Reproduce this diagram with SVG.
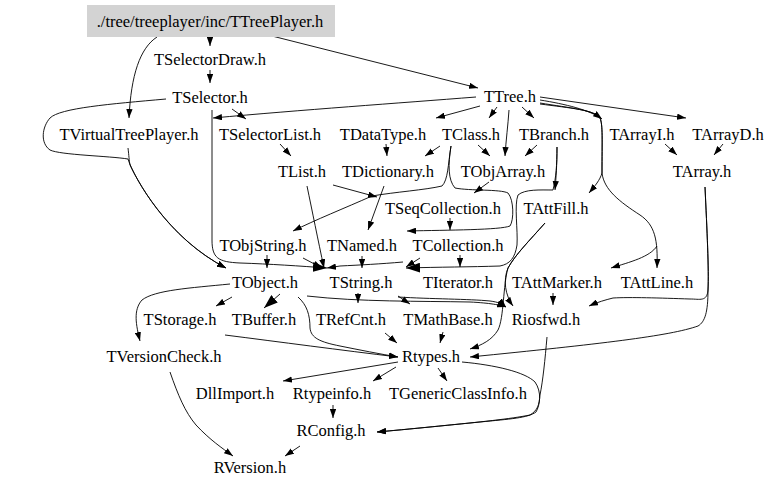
<svg xmlns="http://www.w3.org/2000/svg" width="779" height="491" viewBox="0 0 779 491">
<style>
text{font-family:"Liberation Serif","DejaVu Serif","Times New Roman",Times,serif;font-size:16.5px;text-anchor:middle;fill:#000}
.e{fill:none;stroke:#000;stroke-width:0.9;marker-end:url(#ah)}
.b{marker-end:url(#big)}
</style>
<defs>
<marker id="ah" viewBox="0 0 10 7" refX="10" refY="3.5" markerWidth="9" markerHeight="6.5" markerUnits="userSpaceOnUse" orient="auto"><path d="M0,0L10,3.5L0,7z" fill="#000"/></marker>
<marker id="big" viewBox="0 0 10 7" refX="10" refY="3.5" markerWidth="14" markerHeight="10" markerUnits="userSpaceOnUse" orient="auto"><path d="M0,0L10,3.5L0,7z" fill="#000"/></marker>
</defs>
<rect width="779" height="491" fill="#fff"/>
<g id="connectors">
<path class="e" d="M210,37 L210,46"/>
<path class="e" d="M157,37 C140,48 131,75 129,118"/>
<path class="e" d="M272,36 L478,88"/>
<path class="e" d="M210,70 L210,83"/>
<path class="e" d="M166,99 C110,104 60,108 50,118 C42,127 40,143 50,150 C60,155 110,156 128,159 C134,178 168,238 226,268"/>
<path class="e" d="M128,148 C129,156 129,160 130,165 C142,190 172,240 226,268"/>
<path class="e b" d="M212,110 L212,240 C212,258 218,262 240,263 C270,264 300,266 327,268"/>
<path class="e" d="M476,97 C400,103 300,110 213,118"/>
<path class="e" d="M232,109 L246,119"/>
<path class="e" d="M480,106 L436,118"/>
<path class="e" d="M497,107 L489,118"/>
<path class="e" d="M509,110 C508,125 506,140 505,156"/>
<path class="e" d="M522,107 L534,118"/>
<path class="e" d="M540,100 C565,104 590,110 602,119"/>
<path class="e" d="M540,97 L686,118"/>
<path class="e" d="M540,103 C570,108 595,110 600,118 C603,125 602,140 602,173 C600,180 595,186 589,193"/>
<path class="e" d="M540,104 C570,108 595,110 600,118 C603,125 602,140 602,173 C604,190 620,202 640,215 C655,225 658,240 657,268"/>
<path class="e" d="M657,246 C650,257 630,262 611,268"/>
<path class="e" d="M665,144 L677,155"/>
<path class="e" d="M723,144 L714,155"/>
<path class="e" d="M386,144 L387,156"/>
<path class="e" d="M440,146 L425,156"/>
<path class="e" d="M478,145 L490,156"/>
<path class="e" d="M537,145 L525,156"/>
<path class="e" d="M280,144 L291,156"/>
<path class="e" d="M557,147 C557,165 556,178 555,190"/>
<path class="e b" d="M557,147 C557,165 556,178 553,190 C540,190 525,189 518,195 C514,205 518,230 517,245 C515,258 510,264 500,266 C470,267 440,267 406,268"/>
<path class="e" d="M333,185 L377,197"/>
<path class="e" d="M307,186 C312,210 318,240 324,268"/>
<path class="e" d="M384,186 L368,230"/>
<path class="e" d="M451,146 C448,165 448,180 442,186 C425,190 395,192 372,196 C345,208 315,220 293,231"/>
<path class="e" d="M451,146 C448,165 448,180 455,188 C470,191 500,189 508,193 C514,200 514,220 510,226 C500,230 450,230 407,231"/>
<path class="e" d="M489,182 L474,193"/>
<path class="e" d="M450,218 L450,230"/>
<path class="e" d="M460,255 L460,267"/>
<path class="e" d="M420,258 L406,267"/>
<path class="e" d="M403,262 C380,264 360,265 340,266 L327,268"/>
<path class="e" d="M362,256 L362,268"/>
<path class="e" d="M267,255 L267,268"/>
<path class="e" d="M303,258 L322,268"/>
<path class="e" d="M545,223 C530,240 515,255 508,268 C503,280 505,295 513,306"/>
<path class="e" d="M545,223 C530,240 515,255 508,268 C503,285 504,318 498,330 C492,340 482,345 470,349"/>
<path class="e" d="M553,293 L553,305"/>
<path class="e" d="M705,187 C707,230 709,270 708,290 C707,302 700,299 690,299 C660,298 630,297 613,298 C605,300 598,302 589,306"/>
<path class="e" d="M705,187 C707,230 709,270 708,290 C708,312 705,322 698,326 C670,336 600,344 470,357"/>
<path class="e" d="M232,297 L216,306"/>
<path class="e b" d="M280,294 L264,308"/>
<path class="e" d="M230,284 C190,288 155,290 142,300 C133,310 136,325 140,341"/>
<path class="e" d="M298,297 C307,305 310,315 310,328 C311,338 320,342 340,346 C360,350 380,354 398,357"/>
<path class="e" d="M307,296 C360,302 420,301 470,302 C490,303 500,305 506,307"/>
<path class="e" d="M358,293 L358,303"/>
<path class="e" d="M398,296 L410,304"/>
<path class="e" d="M398,297 C430,299 470,299 490,301 C498,302 503,304 506,307"/>
<path class="e" d="M225,335 C280,342 340,350 398,357"/>
<path class="e" d="M385,333 L397,343"/>
<path class="e" d="M443,332 L440,343"/>
<path class="e" d="M398,362 L283,381"/>
<path class="e" d="M396,367 L373,381"/>
<path class="e" d="M438,368 L447,381"/>
<path class="e" d="M462,362 C495,365 525,372 535,382 C542,392 540,405 536,412 C528,418 510,419 480,422 C440,426 410,429 377,432"/>
<path class="e" d="M547,337 C545,360 543,380 540,395 C539,405 538,410 530,415 C510,419 480,422 440,426 C420,428 400,430 377,432"/>
<path class="e" d="M333,405 L333,418"/>
<path class="e" d="M300,446 L285,456"/>
<path class="e" d="M170,372 C178,395 185,412 196,425 C210,440 222,448 233,456"/>
</g>
<g id="n_TTreePlayer"><rect x="87" y="5" width="248" height="32" fill="#d3d3d3"/><text x="210" y="27" font-family="Liberation Serif, serif">./tree/treeplayer/inc/TTreePlayer.h</text></g>
<g id="n_TSelectorDraw"><text x="210" y="65">TSelectorDraw.h</text></g>
<g id="n_TSelector"><text x="210" y="103">TSelector.h</text></g>
<g id="n_TTree"><text x="510" y="102">TTree.h</text></g>
<g id="n_TVirtualTreePlayer"><text x="129" y="140">TVirtualTreePlayer.h</text></g>
<g id="n_TSelectorList"><text x="270" y="140">TSelectorList.h</text></g>
<g id="n_TDataType"><text x="383" y="140">TDataType.h</text></g>
<g id="n_TClass"><text x="471" y="140">TClass.h</text></g>
<g id="n_TBranch"><text x="554" y="140">TBranch.h</text></g>
<g id="n_TArrayI"><text x="642" y="140">TArrayI.h</text></g>
<g id="n_TArrayD"><text x="728" y="140">TArrayD.h</text></g>
<g id="n_TList"><text x="302" y="177">TList.h</text></g>
<g id="n_TDictionary"><text x="388" y="177">TDictionary.h</text></g>
<g id="n_TObjArray"><text x="503" y="177">TObjArray.h</text></g>
<g id="n_TArray"><text x="702" y="177">TArray.h</text></g>
<g id="n_TSeqCollection"><text x="443" y="214">TSeqCollection.h</text></g>
<g id="n_TAttFill"><text x="556" y="214">TAttFill.h</text></g>
<g id="n_TObjString"><text x="263" y="251">TObjString.h</text></g>
<g id="n_TNamed"><text x="362" y="251">TNamed.h</text></g>
<g id="n_TCollection"><text x="458" y="251">TCollection.h</text></g>
<g id="n_TObject"><text x="265" y="288">TObject.h</text></g>
<g id="n_TString"><text x="361" y="288">TString.h</text></g>
<g id="n_TIterator"><text x="458" y="288">TIterator.h</text></g>
<g id="n_TAttMarker"><text x="557" y="288">TAttMarker.h</text></g>
<g id="n_TAttLine"><text x="657" y="288">TAttLine.h</text></g>
<g id="n_TStorage"><text x="180" y="325">TStorage.h</text></g>
<g id="n_TBuffer"><text x="264" y="325">TBuffer.h</text></g>
<g id="n_TRefCnt"><text x="351" y="325">TRefCnt.h</text></g>
<g id="n_TMathBase"><text x="448" y="325">TMathBase.h</text></g>
<g id="n_Riosfwd"><text x="546" y="325">Riosfwd.h</text></g>
<g id="n_TVersionCheck"><text x="164" y="362">TVersionCheck.h</text></g>
<g id="n_Rtypes"><text x="431" y="362">Rtypes.h</text></g>
<g id="n_DllImport"><text x="235" y="399">DllImport.h</text></g>
<g id="n_Rtypeinfo"><text x="332" y="399">Rtypeinfo.h</text></g>
<g id="n_TGenericClassInfo"><text x="458" y="399">TGenericClassInfo.h</text></g>
<g id="n_RConfig"><text x="331" y="436">RConfig.h</text></g>
<g id="n_RVersion"><text x="250" y="473">RVersion.h</text></g>
</svg>
